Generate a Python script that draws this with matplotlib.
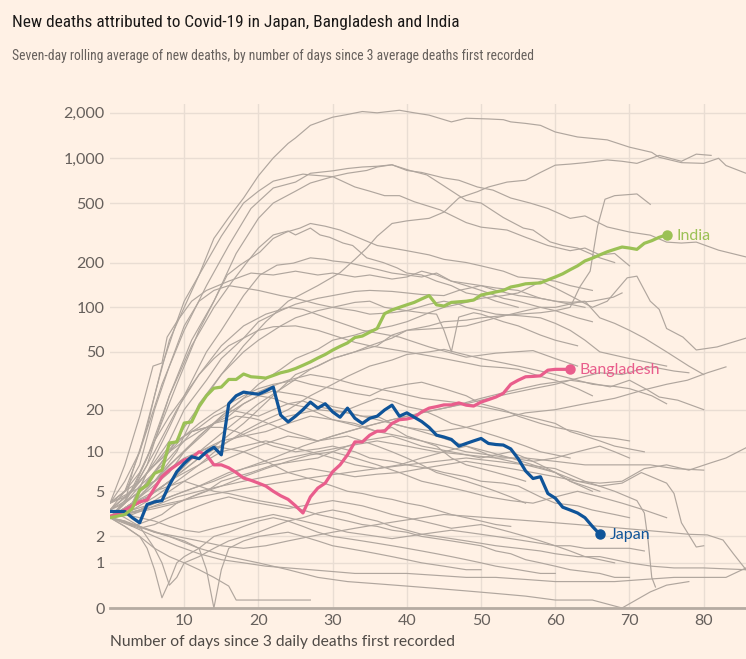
import numpy as np
import matplotlib
matplotlib.use("Agg")
import matplotlib.pyplot as plt
from matplotlib import font_manager

# Highlighted countries: seven-day rolling average of new deaths, one value per day
japan = [3.4, 3.4, 3.4, 3.0, 2.7, 3.9, 4.1, 4.2, 5.6, 7.1, 8.2, 9.2, 8.9, 10.0, 10.8, 9.5,
         22, 25, 26.5, 26, 25.6, 27, 28.7, 18.3, 16.4, 18, 20, 22.6, 20.5, 22, 19.3, 17.7,
         20.5, 17.4, 16, 17.4, 18, 19.9, 21.5, 18, 19, 17.7, 16.5, 15, 13.2, 12.8, 12.3, 11,
         11.5, 12, 12.5, 11.5, 11.3, 11.2, 10.5, 8.9, 7.2, 6.3, 6.5, 4.8, 4.4, 3.7, 3.5, 3.3,
         3.0, 2.5, 2.1]
bangladesh = [3.1, 3.2, 3.5, 3.8, 4.1, 4.25, 5.3, 6.5, 7.3, 8.0, 8.7, 9.0, 10.0, 9.5, 8.0, 8.0,
              7.6, 7.0, 6.35, 6.1, 5.8, 5.5, 5.0, 4.6, 4.3, 3.8, 3.3, 4.5, 5.3, 5.8, 7.1, 8.0,
              9.5, 11.8, 11.8, 13.2, 14.1, 14.1, 16.0, 17.0, 17.2, 17.7, 19.3, 20.5, 21.0, 21.6,
              21.6, 22.3, 21.5, 21.2, 22.6, 23.5, 24.5, 26, 30, 32, 33.8, 34, 34.3, 37.5, 38, 38, 38]
india = [3.0, 3.1, 3.2, 3.6, 5.1, 5.6, 6.9, 7.3, 11.6, 11.8, 16.1, 16.4, 21, 25, 28.2, 28.7,
         32.4, 32.4, 35.3, 33.8, 33.5, 33.1, 34.5, 36, 37, 38.5, 40.5, 42.7, 45.4, 48, 51.4,
         54.5, 57.5, 62.6, 64, 68, 72, 90.7, 96, 100, 104, 108, 114, 120, 104, 102, 108, 109,
         110, 112, 121, 124, 127, 130, 137, 140, 144, 145, 146, 153, 160, 168, 179, 190, 205,
         214, 225, 236, 245, 254, 250, 245, 269, 280, 295, 306]

# Other countries, (day, value)
others = [
    [(0,3.5),(2,5),(4,10),(6,25),(7,40),(9,80),(10,110),(12,165),(14,290),(16,400),(18,540),(20,760),(22,1000),(24,1250),(25,1360),(27,1650),(30,1870),(32,1950),(34,2040),(36,2000),(39,2080),(41,2000),(43,1930),(46,1740),(48,1840),(51,1820),(53,1800),(54,1740),(56,1700),(58,1650),(60,1490),(63,1380),(67,1320),(70,1180),(73,1090),(74,1010),(77,930),(80,920),(82,995),(83,890),(85.7,790)],
    [(0,3),(3,4),(6,6),(9,10),(12,22),(15,35),(18,55),(21,80),(24,110),(28,140),(31,171),(33,210),(34.6,250),(36,300),(38,365),(40,380),(42,390),(43,395),(45,435),(47,540),(49.5,595),(51,640),(53.5,690),(56,710),(58,800),(60,895),(62,910),(64,930),(67,970),(69,950),(71,920),(74,1040),(77,950),(79,1060),(81,1040)],
    [(0,4),(2,6),(4,10),(7,30),(10,70),(13,140),(16,260),(19,460),(22,630),(25,690),(27,790),(30,820),(32,850),(34,870),(36,880),(38,900),(40,825),(42,800),(45,735),(47,710),(49.5,640),(51.6,610),(54,540),(56.6,500),(59,460),(62,395),(64,410),(67,346),(70,320),(72.8,305),(75,274),(77,270),(79,274),(82,242),(85.7,218)],
    [(0,3),(2,4),(3,7),(5,15),(6,25),(8,60),(10,100),(12,165),(15,300),(18,500),(20,600),(22,700),(24,740),(26,780),(27,770),(30,750),(33,640),(35,600),(37,560),(39,560),(41,510),(44.5,450),(48,370),(50,345),(53.5,330),(56,295),(59,260),(62,240),(64,250),(66,225),(68,230),(70,190)],
    [(0,3),(3,5),(5,8),(8,25),(11,60),(14,110),(17,230),(20,395),(22,500),(25,600),(27,680),(30,750),(32,790),(34.6,825),(36,870),(38,900),(40.4,825),(42.7,770),(45,650),(48,520),(50,500),(53,400),(55.7,340),(57,330),(59.3,275),(61,260),(63,250),(66,215),(68,200)],
    [(0,3),(2,4),(5,9),(8,25),(11,55),(14,100),(16.5,150),(18.5,202),(20,250),(22,306),(24,325),(25,306),(27,340),(28.3,306),(29.6,295),(31.4,270),(32.7,260),(34.6,215),(36.8,200),(38.7,184),(40,170),(42,165),(44,150),(46,140),(48,125),(50,120),(52,110),(55,100)],
    [(0,3.5),(3,5),(6,12),(9,30),(12,70),(14,110),(15.8,165),(17.5,192),(20.2,235),(22,290),(23.8,320),(25.6,340),(27,365),(29,350),(31,330),(33,300),(36,260),(38,250),(40,240),(43,225),(45,210),(48,200),(50,190),(53,175),(55,160),(58,155),(60,150),(62,140),(65,130)],
    [(0,3),(3,4),(5,7),(8,15),(10,25),(13,50),(15,70),(18,120),(20.2,165),(22.5,192),(24.7,198),(27,215),(29,210),(30,205),(32,200),(34,190),(36,180),(38,170),(40,165),(42,160),(44,170),(46,150),(48,145),(50,140),(52,130),(55,120),(58,115),(60,110),(62,105),(64,100)],
    [(0,4),(2,8),(4,18),(5.8,40),(7,42),(7.7,63),(9,80),(11,110),(13,130),(16,150),(19,170),(22,165),(25,175),(28,165),(30,170),(33,160),(35,165),(38,155),(40,160),(42,175),(44,165),(46,150),(48,140),(50,130),(53,115),(55,110),(58,100),(60,95),(63,85),(65,80)],
    [(0,4),(2,5),(4,8),(6,20),(8,40),(10,75),(12,110),(14,130),(16,140),(18,135),(20,130),(23,120),(25,115),(28,105),(30,100),(33,95),(35,90),(38,92),(40,95),(43,105),(45,110),(47,105),(48,100),(50,95),(52,90),(55,88),(58,85),(60,78),(62,70),(64,60),(66,50),(70,45),(75,40)],
    [(0,3),(3,4),(5,7),(8,12),(10,20),(13,32),(15,45),(18,62),(20,80),(23,95),(25,105),(28,115),(30,120),(33,128),(35,130),(38,128),(40,125),(42,122),(45,120),(47,130),(50,140),(52,135),(55,130),(58,115),(60,110),(62,108),(64,110),(66,85),(68,78),(70,70),(72,62),(75,50),(78,40),(80,35)],
    [(0,3),(3,4),(5,6),(8,10),(10,15),(13,25),(15,35),(18,50),(20,60),(23,75),(25,85),(28,95),(30,100),(33,108),(35,110),(37,100),(40,95),(42,92),(44,90),(45,70),(46,50),(47,86),(49,92),(50,90),(53,80),(55,75),(58,65),(60,60),(63,55)],
    [(0,3),(4,4),(8,6),(12,9),(15,12),(18,16),(20,20),(23,28),(25,35),(28,40),(30,45),(33,50),(35,55),(38,62),(40,70),(43,75),(45,80),(48,82),(50,85),(53,88),(55,90),(58,92),(60,95),(62,100),(63.3,137),(64.7,175),(65.7,350),(66.7,530),(68,560),(71,575),(72.8,490)],
    [(0,3),(3,4),(5,5),(8,7),(10,10),(13,14),(15,18),(18,24),(20,30),(23,38),(25,45),(28,52),(30,60),(33,65),(35,70),(38,75),(40,80),(43,92),(45,100),(48,108),(50,115),(53,120),(55,125),(57,140),(58,150),(60,135),(62,120),(65,100),(67,110),(69.7,158),(71,162),(72.8,110),(74,97),(75,72),(77.2,63),(79,51.5),(81.8,54),(85.7,62)],
    [(0,4),(2,5),(4,7),(6,12),(8,18),(10,25),(12,35),(14,45),(16,55),(18,62),(20,70),(22,74),(25,75),(28,70),(30,65),(33,58),(35,55),(38,52),(40,50),(43,47),(45,45),(48,42),(50,40),(53,39),(55,38),(58,34),(60,32),(63,28),(65,25)],
    [(0,3.5),(3,5),(6,10),(9,20),(12,35),(15,55),(18,75),(21,90),(24,100),(26,97),(30,82),(34,70),(39,63),(43,54),(48,46),(52,49),(57,51),(60,45),(63,40)],
    [(0,3),(4,4),(8,6),(12,10),(16,15),(20,22),(24,30),(27,38),(30,45),(33,50),(36,55),(38,65),(40,70),(44,72),(48,75),(52,85),(56,95),(58,100),(60,100),(63,108),(65,110),(67.8,117),(69,125)],
    [(0,3),(2,4),(4,5),(6,7),(8,9),(10,12),(12,14),(14,16),(16,18),(18,22),(20,25),(22,24),(24,22),(26,23),(28,21),(30,20),(32,19),(34,18),(36,18),(38,16),(40,15),(42,14),(44,13),(46,12),(48,11),(50,10),(52,9),(54,8.5),(56,8),(58,7.5),(60,7),(62,6),(65,5)],
    [(0,3.5),(2,4.5),(4,6),(6,8),(8,10),(10,13),(12,16),(14,19),(16,22),(18,25),(20,28),(22,30),(25,32),(27,30),(30,28),(33,26),(35,25),(37,28),(40,30),(42,31),(45,28),(48,25),(50,22),(53,20),(55,18),(58,16),(60,15),(63,14),(65,13),(68,12.5),(70,12)],
    [(0,3),(3,4),(6,5),(9,6.5),(12,8),(15,11),(18,14),(21,17),(24,20),(27,25),(30,30),(32,34),(35,40),(38,44),(40,48),(43,50),(45,52),(47,49),(50,45),(53,42),(55,40),(58,37),(60,35),(63,32),(65,30),(68,29),(70,28),(73,25),(75,22)],
    [(0,4),(2,4.5),(3,5),(5,7),(7,9),(9,12),(11,14),(13,15),(15,15),(17,14),(20,12),(22,11),(25,10),(28,10.5),(30,11),(33,10),(35,9),(38,8.5),(40,8),(43,7.5),(45,7),(48,6.5),(50,6),(53,5.8),(55,5.5),(58,4.5),(60,4),(63,3.8),(65,3.5),(68,3.2),(70,3)],
    [(0,3),(2,3.2),(4,3.5),(6,4.2),(8,5),(10,6),(12,7),(14,8),(16,9),(18,10),(20,11),(22,12),(24,13),(26,12.5),(28,12),(30,13),(32,14),(34,15),(36,16),(38,17),(40,18),(42,19),(44,20),(46,21),(48,22),(50,21),(52,20),(54,19),(56,18),(58,17),(60,16),(62,14),(64,13),(66,12),(68,11),(72,10)],
    [(0,3),(2,2.8),(3,2.5),(5,2.8),(7,3.2),(9,4),(11,4.5),(13,5),(15,6),(17,6.5),(19,7),(22,8),(25,8.5),(28,9),(30,10),(32,11),(34,12),(36,12.5),(38,13),(40,12),(42,11),(44,10.5),(46,10),(48,9.5),(50,9),(52,9.5),(54,10),(56,9),(58,8),(60,7),(62,6),(64,5.5),(66,5)],
    [(0,3),(1,3.5),(2,4),(4,5.5),(6,7),(8,10),(10,12),(11,14),(13,15),(14,16),(16,17),(17,18),(19,17.5),(20,17),(22,15.5),(24,14),(26,13),(28,12),(30,12.5),(32,13),(34,12),(36,11),(38,10),(40,9),(42,8),(44,7),(46,6.5),(48,6),(50,5.5),(52,5),(54,4.5),(56,4)],
    [(0,3),(3,3.5),(6,4),(10,5),(14,6),(18,7.5),(22,9),(26,11),(30,13),(34,15),(38,17),(42,19),(46,21),(50,24),(54,27),(58,30),(62,32),(64.7,30.6),(67.4,28.8),(70,32),(72.4,27.5),(74,24.5),(76.5,23.3),(80,20)],
    [(0,3.5),(3,4.5),(6,6),(9,9),(12,13),(15,18),(18,24),(21,28),(24,32),(27,35),(30,33),(33,30),(36,28),(39,26),(42,24),(45,23),(48,22),(51,24),(54,26),(57,28),(60,30),(63,33),(66,36),(69,35),(71,37.5),(73,39.5),(76,37),(78,36)],
    [(0,3),(4,4),(8,6),(12,9),(16,12),(20,15),(24,18),(28,20),(32,19),(36,17),(40,15),(44,14),(48,15),(52,17),(56,19),(60,20),(64,22),(68,24),(72,27.5),(75,30),(77.8,32),(80.5,36),(83,39.5)],
    [(0,3),(3,3.5),(6,4.5),(9,6),(12,8),(15,10),(18,11),(21,12),(24,11),(27,10),(30,9),(33,8),(36,7.5),(39,8),(42,9),(45,10),(48,11),(51,10),(54,9),(57,8),(60,7),(63,6),(66,5.8),(69,6),(72,7.5),(75,8),(78,7.3),(81,8.3),(83,9),(85.7,10.7)],
    [(0,4),(2,5),(4,6),(6,8),(8,11),(10,13),(12,15),(14,18),(16,20),(18,19),(20,18),(22,20),(24,22),(26,21),(28,19),(30,17),(32,16),(34,15),(36,14),(38,15),(40,13),(42,12),(44,11),(46,9),(48,8),(50,7.5),(52,7),(54,6.5),(56,6)],
    [(0,3),(2,2.5),(4,2),(5,1.5),(6,0.8),(7,0.17),(8,0.5),(9,1),(10,1.2),(12,1.5),(14,2),(16,2.2),(18,2.5),(20,2.8),(22,3),(24,2.8),(26,2.5),(28,2.2),(30,2),(32,1.9),(34,1.8),(36,1.7),(38,1.6),(40,1.5),(42,1.4),(44,1.3),(46,1.2),(48,1.1),(50,1.0),(52,0.9),(55,0.8),(58,0.7),(60,0.7)],
    [(0,3),(2,2.8),(4,2.5),(6,2.2),(8,2),(10,1.8),(12,1.5),(13,0.8),(14,0),(15,0.8),(16,1.5),(18,1.8),(20,2),(22,2.1),(24,2.2),(26,2),(28,1.8),(30,1.6),(32,1.5),(34,1.4),(36,1.3),(38,1.2),(40,1.1),(42,1),(45,0.9),(48,0.8),(50,0.8)],
    [(0,3),(2,2.5),(4,2),(6,1.5),(8,1.2),(10,1),(12,0.8),(14,0.6),(16,0.4),(17,0.13),(20,0.13),(23,0.13),(26,0.13),(27,0.13)],
    [(0,3.5),(2,3),(4,2.5),(6,1.5),(7,1),(8,0.42),(9,0.6),(10,1),(12,1.2),(14,1.5),(16,1.8),(18,2),(20,2.2),(22,2.5),(24,2.8),(26,3),(28,3.3),(30,3.5),(32,3.3),(34,3),(36,2.8),(38,2.5),(40,2.3),(42,2.1),(44,2),(46,1.9),(48,1.8),(50,1.7),(52,1.6),(55,1.5),(58,1.4),(60,1.3),(63,1.2),(66,1.2),(70,1),(73,0.9),(76,0.85),(80,0.85),(85.7,0.8)],
    [(0,3),(2,3.5),(3,4),(5,4.5),(6,5),(8,5.5),(10,6),(12,5.5),(14,5),(16,4.8),(18,4.5),(20,4.2),(22,4),(24,3.8),(26,3.5),(28,3.2),(30,3),(32,2.8),(34,2.6),(36,2.5),(38,2.3),(40,2.2),(42,2),(44,1.9),(46,1.8),(48,1.7),(50,1.6),(52,1.4),(54,1.3),(56,1.1),(58,1.0),(60,0.9),(62,0.8),(64,0.75),(66,0.7),(68,0.6),(70,0.6)],
    [(0,3),(2,2.7),(4,2.4),(6,2.6),(8,3),(10,3.4),(12,3.8),(14,4.2),(16,4.5),(18,4.2),(20,4),(22,3.8),(24,3.6),(26,3.8),(28,4),(30,4.2),(32,4),(34,3.8),(36,3.5),(38,3.2),(40,3),(42,2.8),(44,2.6),(46,2.4),(48,2.5),(50,2.6),(52,2.4),(54,2.2),(56,2),(58,1.8),(60,1.6),(62,1.4),(64,1.2),(66,1.1),(68,1)],
    [(0,3),(3,3.2),(6,3.8),(9,4.5),(12,5),(15,5.5),(18,6),(21,6.5),(24,7),(27,7.5),(30,7),(33,6.5),(36,6.8),(39,7),(42,7.5),(45,8),(48,8.5),(51,8),(54,7.5),(57,7),(60,6.5),(63,6),(66,5.5),(69,5.8),(71.6,7),(75,5.8),(76,4.8),(77,2.7),(79,1.55),(80,1.6)],
    [(0,3.5),(2,3.2),(4,3),(6,2.8),(8,2.5),(10,2.3),(12,2.2),(14,2.4),(16,2.6),(18,2.8),(20,3),(22,3.2),(24,3),(26,2.8),(28,2.6),(30,2.4),(32,2.2),(34,2.1),(36,2),(38,1.9),(40,2),(42,2.1),(44,2.2),(46,2.3),(48,2.2),(50,2.1),(52,2),(54,1.9),(56,1.8),(58,1.7),(60,1.6),(62,1.6),(64,1.5),(66,1.5),(68,1.5),(70,1.5),(72,1.4)],
    [(0,3),(3,2.6),(6,2.2),(9,2),(12,1.8),(15,1.6),(18,1.5),(21,1.6),(24,1.8),(27,2),(30,2.2),(33,2.4),(36,2.6),(39,2.8),(42,3),(45,3.2),(48,3.1),(51,3),(54,2.9),(57,2.8),(60,2.7),(63,2.6),(66,2.5),(69,2.4),(72,2.3),(75,2.2),(78,2.1),(80.5,2.07),(82.6,1.84),(84,1.3),(85.7,0.8)],
    [(0,3),(3,2.5),(6,2),(9,1.6),(12,1.3),(15,1.1),(18,1),(21,0.9),(24,0.85),(27,0.8),(30,0.75),(33,0.7),(36,0.7),(40,0.7),(44,0.65),(48,0.6),(52,0.6),(56,0.55),(60,0.5),(64,0.5),(68,0.5),(72,0.55),(76,0.6),(80,0.6),(83,0.6),(85.7,0.85)],
    [(0,3),(4,3.5),(8,4),(12,4.5),(16,5),(20,5.5),(24,6),(28,6.5),(32,7),(36,7.5),(40,8),(44,8.5),(48,9),(52,8.5),(56,8),(60,7.5),(64,6),(68,5),(71,4.2),(72,3.3),(72.5,1.84),(73,0.6),(73.5,0.38)],
    [(0,3),(4,2.5),(8,2),(12,1.5),(16,1.2),(20,1),(24,0.8),(28,0.6),(32,0.5),(36,0.45),(40,0.4),(44,0.35),(48,0.3),(52,0.25),(56,0.2),(60,0.13),(65,0.13),(69,0),(72.8,0.28),(75,0.42),(78,0.5)],
    [(0,4),(3,5),(6,6),(9,8),(12,10),(15,12),(18,13),(21,14),(24,16),(27,18),(30,17),(33,16),(36,14),(39,13),(42,12),(45,11),(48,10),(51,9.5),(54,9),(57,8.5),(60,9),(63,10),(66,11),(68,10),(70,9)],
    [(0,3),(3,3.3),(6,3.6),(9,4),(12,4.8),(15,5.5),(18,6.5),(21,7.5),(24,8.5),(27,9.5),(30,10),(33,9),(36,8),(39,7),(42,6),(45,5.5),(48,5),(51,4.5),(54,4.2),(57,4),(60,4.5),(63,5),(66,4.5),(69,4),(72,3.5),(75,3)],
    [(0,3.5),(2,4),(4,5),(6,6),(8,7.5),(10,9),(12,10),(14,11),(16,10.5),(18,10),(20,9),(22,8),(24,7),(26,6.5),(28,6),(30,5.5),(32,5),(34,4.8),(36,4.5),(38,4.3),(40,4),(42,3.8),(44,3.5),(46,3.2),(48,3),(50,2.8),(52,2.6),(54,2.5)],
    [(0,3),(4,3.5),(8,4.5),(12,5.5),(16,7),(20,8),(24,9),(28,10),(32,11),(36,12),(40,11),(44,10),(48,9.5),(52,9),(56,9),(60,8.5),(64,8),(68,8),(72.8,8),(76,7.5),(80,7.3)],
    [(0,3),(2,3.5),(4,4.5),(6,6),(8,8),(10,10),(12,13),(14,16),(16,19),(18,22),(20,25),(22,27),(24,26),(26,25),(28,23),(30,21),(32,20),(34,22),(36,24),(38,23),(40,21),(42,20),(44,18),(46,16),(48,15),(50,14),(52,13),(54,12),(56,11),(58,10),(60,9.5),(62,9)],
]

y_ticks = [0, 1, 2, 5, 10, 20, 50, 100, 200, 500, 1000, 2000]
x_ticks = [10, 20, 30, 40, 50, 60, 70, 80]

BG = "#FFF1E5"
GREY_TXT = "#66605C"
installed = {f.name for f in font_manager.fontManager.ttflist}
body = "Lato" if "Lato" in installed else "DejaVu Sans"
head = "Roboto Condensed" if "Roboto Condensed" in installed else body

fig = plt.figure(figsize=(7.46, 6.59), dpi=100, facecolor=BG)
ax = fig.add_axes([110 / 746, 51 / 659, 636 / 746, 504 / 659])
ax.set_facecolor(BG)

fwd = lambda v: np.log10(np.clip(v, 0, None) + 1)
inv = lambda t: 10 ** t - 1
ax.set_yscale("function", functions=(fwd, inv))

for line in others:
    d, v = zip(*line)
    ax.plot(d, v, color="#B0A69E", lw=0.85, zorder=2)

series = [("Bangladesh", bangladesh, "#E95D8C"),
          ("Japan", japan, "#0F5499"),
          ("India", india, "#9BC155")]
for name, vals, col in series:
    days = np.arange(len(vals))
    ax.plot(days, vals, color=col, lw=2.3, zorder=4, solid_joinstyle="round")
    ax.plot(days[-1], vals[-1], "o", ms=6.5, color=col, zorder=5)
    ax.annotate(name, (days[-1], vals[-1]), xytext=(7, -0.5), textcoords="offset points",
                va="center", ha="left", color=col, fontsize=11.5, family=body, zorder=5)

ax.set_xlim(0, 85.7)
ax.set_ylim(0, 2290)
ax.set_yticks(y_ticks)
ax.set_yticklabels([f"{t:,}" for t in y_ticks])
ax.set_xticks(x_ticks)
ax.minorticks_off()
ax.grid(True, color="#E9DDD3", lw=1, zorder=0)
for s in ["left", "right", "top"]:
    ax.spines[s].set_visible(False)
ax.spines["bottom"].set_color("#B5ABA2")
ax.spines["bottom"].set_linewidth(2)
ax.spines["bottom"].set_zorder(3)
ax.tick_params(length=0, labelsize=11.5, labelcolor=GREY_TXT, pad=4)
for lab in ax.get_xticklabels() + ax.get_yticklabels():
    lab.set_family(body)

title = fig.text(12 / 746, 1 - 22 / 659, "New deaths attributed to Covid-19 in Japan, Bangladesh and India",
                 fontsize=14, family=head, color="#1A1817", va="center", ha="left")
sub = fig.text(12 / 746, 1 - 56 / 659,
               "Seven-day rolling average of new deaths, by number of days since 3 average deaths first recorded",
               fontsize=11, family=head, color=GREY_TXT, va="center", ha="left")
xlab = fig.text(110 / 746, 1 - 642 / 659, "Number of days since 3 daily deaths first recorded",
                fontsize=11, family=body, color="#4F4A46", va="center", ha="left")

# scale the texts to roughly the width they take in the original
# (a little wider for the headers, whose font is narrower than any installed one)
renderer = fig.canvas.get_renderer()
for txt, width_px in [(title, 450), (sub, 520), (xlab, 345)]:
    w = txt.get_window_extent(renderer).width
    txt.set_fontsize(txt.get_fontsize() * width_px / w)

fig.savefig("out.png", dpi=100, facecolor=BG)
